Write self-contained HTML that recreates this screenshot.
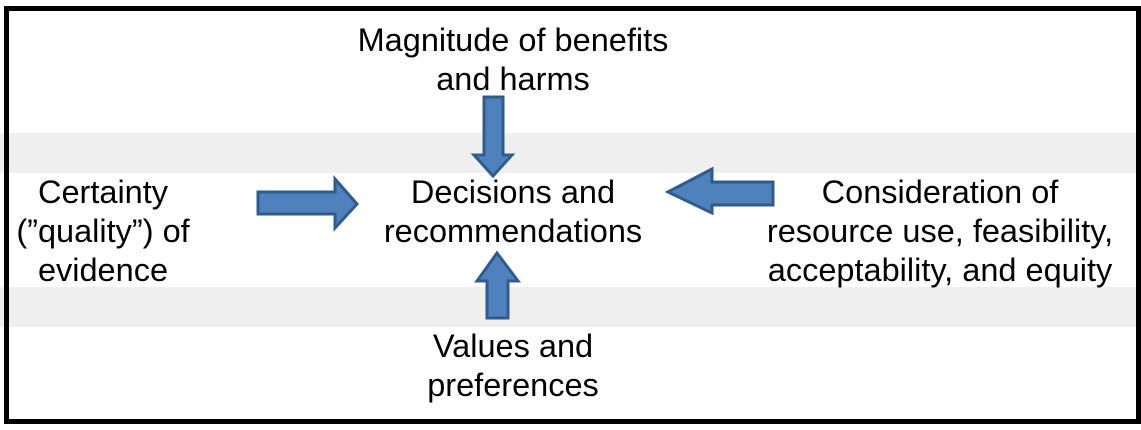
<!DOCTYPE html>
<html><head><style>
html,body{margin:0;padding:0;background:#fff;}
body{width:1141px;height:430px;position:relative;overflow:hidden;font-family:"Liberation Sans",Arial,sans-serif;}
.band{position:absolute;left:0;width:1141px;background:#efefef;}
.t{position:absolute;font-size:32.5px;line-height:39px;color:#000;text-align:center;white-space:nowrap;}
svg{position:absolute;left:0;top:0;}
</style></head><body>
<div class="band" style="top:133px;height:40px"></div>
<div class="band" style="top:287px;height:40px"></div>
<div style="position:absolute;left:4px;top:6px;width:1127px;height:408px;border:5px solid #000;"></div>
<svg width="1141" height="430">
<g fill="#4f81bd" stroke="#2f5c8f" stroke-width="3" stroke-linejoin="miter">
<polygon points="484,97 503,97 503,155 512,155 493,176 474,155 484,155"/>
<polygon points="258,192 335,192 335,179 357,204 335,228 335,214 258,214"/>
<polygon points="773,182 712,182 712,169 668,192 712,213 712,205 773,205"/>
<polygon points="487,318 508,318 508,281 518,281 497,253 477,281 487,281"/>
</g>
</svg>
<div class="t" style="left:263px;width:500px;top:21px">Magnitude of benefits<br>and harms</div>
<div class="t" style="left:263px;width:500px;top:173px">Decisions and<br>recommendations</div>
<div class="t" style="left:-17px;width:240px;top:173px">Certainty<br>(”quality”) of<br>evidence</div>
<div class="t" style="left:730px;width:420px;top:173px">Consideration of<br>resource use, feasibility,<br>acceptability, and equity</div>
<div class="t" style="left:263px;width:500px;top:327px">Values and<br>preferences</div>
</body></html>
